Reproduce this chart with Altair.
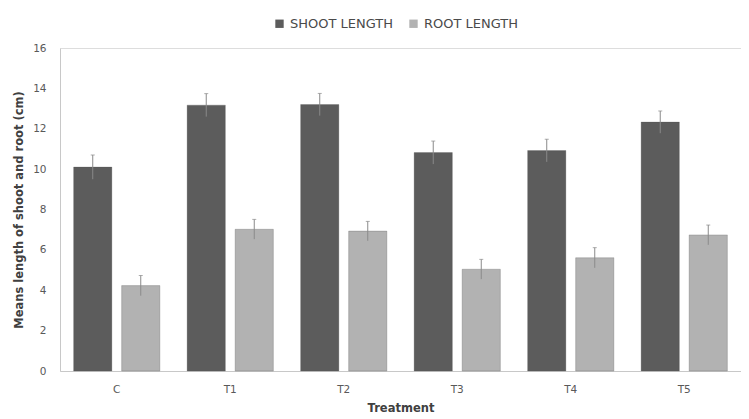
import altair as alt
import pandas as pd

treatments = ["C", "T1", "T2", "T3", "T4", "T5"]
shoot = [10.1, 13.17, 13.2, 10.82, 10.92, 12.33]
shoot_err = [0.6, 0.57, 0.55, 0.57, 0.56, 0.55]
root = [4.23, 7.02, 6.93, 5.04, 5.61, 6.74]
root_err = [0.5, 0.49, 0.48, 0.49, 0.5, 0.49]
series = ["SHOOT LENGTH", "ROOT LENGTH"]

rows = []
for i, t in enumerate(treatments):
    rows.append({"Treatment": t, "Series": series[0], "value": shoot[i], "err": shoot_err[i]})
    rows.append({"Treatment": t, "Series": series[1], "value": root[i], "err": root_err[i]})
df = pd.DataFrame(rows)
df["lo"] = df["value"] - df["err"]
df["hi"] = df["value"] + df["err"]

FONT = "DejaVu Sans"

x = alt.X("Treatment:N", sort=treatments, title="Treatment",
          scale=alt.Scale(paddingInner=0, paddingOuter=0),
          axis=alt.Axis(labelAngle=0, ticks=False, domainColor="#c8c8c8",
                        labelColor="#595959", labelFontSize=10.5, labelPadding=13,
                        titleFontSize=11.5, titleFontWeight="bold", titleColor="#404040",
                        titlePadding=8, labelFont=FONT, titleFont=FONT))
xo = alt.XOffset("Series:N", sort=series,
                 scale=alt.Scale(paddingInner=0.204, paddingOuter=0.284))

bars = alt.Chart(df).mark_bar(stroke="#4a4a4a", strokeOpacity=0.25, strokeWidth=1).encode(
    x=x,
    xOffset=xo,
    y=alt.Y("value:Q", title="Means length of shoot and root (cm)",
            scale=alt.Scale(domain=[0, 16]),
            axis=alt.Axis(values=list(range(0, 17, 2)), grid=False, ticks=False,
                          domainColor="#c8c8c8", labelColor="#595959", labelFontSize=10.5,
                          labelPadding=14, titleFontSize=11.5, titleFontWeight="bold",
                          titleColor="#404040", titlePadding=8,
                          labelFont=FONT, titleFont=FONT)),
    color=alt.Color("Series:N", sort=series,
                    scale=alt.Scale(domain=series, range=["#5c5c5c", "#b2b2b2"]),
                    legend=alt.Legend(title=None, orient="none", legendX=213, legendY=-31,
                                      direction="horizontal", symbolType="square",
                                      symbolSize=70, symbolStrokeWidth=0,
                                      labelFontSize=13, labelColor="#4a4a4a",
                                      labelFont=FONT, columnPadding=13, labelOffset=4,
                                      symbolOffset=0)),
)

errs = alt.Chart(df).mark_rule(color="#8a8a8a", strokeWidth=1).encode(
    x=x, xOffset=xo, y="lo:Q", y2="hi:Q"
)
caps = alt.Chart(df).mark_tick(color="#8a8a8a", thickness=1, size=4).encode(
    x=x, xOffset=xo, y="hi:Q"
)

chart = alt.layer(bars, errs, caps).properties(
    width=681, height=323,
    autosize=alt.AutoSizeParams(type="none"),
    padding={"left": 52, "top": 40, "right": 0, "bottom": 45},
).configure_view(stroke=None).configure(background="white")

chart.save("out.html", embed_options={"renderer": "svg", "actions": False})
